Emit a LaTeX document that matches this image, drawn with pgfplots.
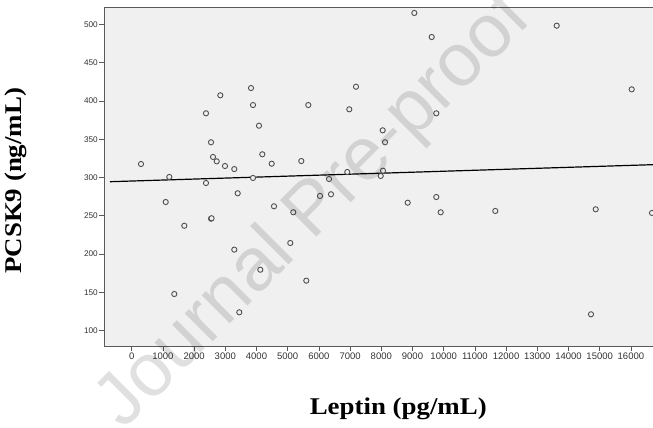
\documentclass[border=0pt]{standalone}
\usepackage{fontspec}
\setmainfont{Liberation Sans}
\newfontfamily\labelfont[FakeStretch=1.12]{Liberation Serif}
\usepackage{pgfplots}
\pgfplotsset{compat=1.18}
\definecolor{plotbg}{HTML}{F0F0F0}
\definecolor{framegray}{HTML}{5A5A5A}
\definecolor{markgray}{HTML}{505050}
\definecolor{ticktext}{HTML}{333333}

\begin{document}
\begin{tikzpicture}
\begin{axis}[
    scale only axis,
    width=560pt, height=339.4pt,
    xmin=-888, xmax=17061,
    ymin=79.1, ymax=522.2,
    axis background/.style={fill=plotbg},
    axis line style={framegray, line width=0.8pt},
    xtick={0,1000,...,16000},
    ytick={100,150,...,500},
    tick align=outside,
    major tick length=4.5pt,
    tick style={framegray, line width=0.6pt},
    xtick pos=bottom, ytick pos=left,
    scaled x ticks=false,
    /pgf/number format/set thousands separator={},
    /pgf/number format/assume math mode=true,
    xticklabel style={font=\fontsize{9.5}{10}\selectfont, text=ticktext, inner sep=1pt},
    yticklabel style={font=\fontsize{8.2}{9}\selectfont, text=ticktext, inner sep=1.5pt},
    xlabel={Leptin (pg/mL)},
    ylabel={PCSK9 (ng/mL)},
    xlabel style={at={(axis description cs:0.5255,-0.2)}, anchor=base,
        font=\labelfont\bfseries\fontsize{24}{28}\selectfont},
    ylabel style={at={(axis description cs:-0.1482,0.4888)}, anchor=base,
        font=\labelfont\bfseries\fontsize{24}{28}\selectfont},
]
% regression line
\addplot[black, line width=1.2pt] coordinates {(-696,294.5) (17061,317.2)};
% observations
\addplot[only marks, mark=*, mark size=2.6pt,
    mark options={draw=markgray, fill=plotbg, line width=0.9pt}]
table {
x y
298 317.6
1205 300.7
1090 268
1365 147.9
1686 237
2381 383.8
2381 292.8
2542 346
2606 326.8
2724 321.1
2542 246.2
2560 246.8
2840 407.3
2990 315
3288 311
3397 279.4
3288 205.8
3449 124
3824 416.8
3888 394.6
3888 299.4
4080 367.6
4122 179.6
4186 330.3
4487 318
4561 262.4
5083 214.5
5179 254.6
5436 321.5
5596 165.3
5660 394.6
6035 275.9
6388 278.1
6324 298
6910 307.2
6974 389
7189 418.5
7981 302
8054 308.9
8045 361.6
8119 346
8846 267.1
9058 514.8
9615 483.4
9763 383.8
9763 274.5
9904 254.6
11654 256.3
13622 498.2
14721 121.4
14872 258.5
16026 415.1
16676 253.7
};
\end{axis}
\node[rotate=45, font=\fontsize{75}{80}\selectfont, text=black, opacity=0.12]
    at (211pt,134.7pt) {Journal Pre-proof};
\pgfresetboundingbox
\path[use as bounding box] (-104pt,-81.3pt) rectangle (549pt,346.7pt);
\end{tikzpicture}
\end{document}
